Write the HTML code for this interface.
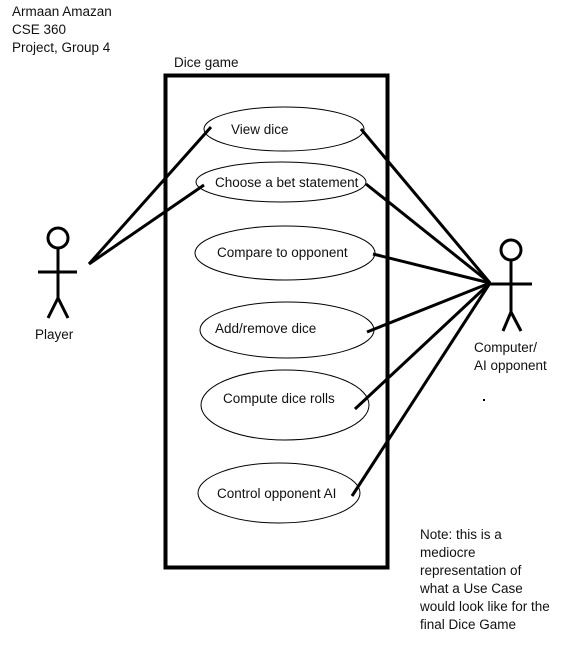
<!DOCTYPE html>
<html><head><style>
body{margin:0;width:580px;height:641px;background:#fff;overflow:hidden}
svg text{font-family:"Liberation Sans",sans-serif;font-size:13.5px;fill:#111}
</style></head><body>
<svg width="580" height="641" viewBox="0 0 580 641">
<text x="12" y="16">Armaan Amazan</text>
<text x="12" y="34">CSE 360</text>
<text x="12" y="52">Project, Group 4</text>
<text x="174" y="67">Dice game</text>
<rect x="165.5" y="75.5" width="222" height="492" fill="none" stroke="#000" stroke-width="4"/>
<g fill="none" stroke="#000" stroke-width="1">
<ellipse cx="284" cy="129" rx="80" ry="22"/>
<ellipse cx="281" cy="182" rx="85" ry="20"/>
<ellipse cx="285" cy="253" rx="90" ry="27"/>
<ellipse cx="287" cy="330" rx="87" ry="28"/>
<ellipse cx="285" cy="405" rx="84" ry="35"/>
<ellipse cx="279" cy="493" rx="81" ry="30"/>
</g>
<text x="231" y="134">View dice</text>
<text x="215" y="187">Choose a bet statement</text>
<text x="217" y="257">Compare to opponent</text>
<text x="215" y="333">Add/remove dice</text>
<text x="223" y="403">Compute dice rolls</text>
<text x="217" y="498">Control opponent AI</text>
<g stroke="#000" stroke-width="3" fill="none">
<circle cx="58" cy="238" r="10"/>
<line x1="58" y1="248" x2="58" y2="300"/>
<line x1="38" y1="272" x2="77" y2="272"/>
<line x1="58" y1="298" x2="48" y2="318"/>
<line x1="58" y1="298" x2="68" y2="318"/>
<circle cx="511" cy="250" r="10"/>
<line x1="511" y1="260" x2="511" y2="314"/>
<line x1="490" y1="284" x2="532" y2="284"/>
<line x1="511" y1="312" x2="503" y2="331"/>
<line x1="511" y1="312" x2="521" y2="331"/>
<line x1="89" y1="264" x2="211" y2="127"/>
<line x1="89" y1="264" x2="204" y2="185"/>
<line x1="490" y1="283" x2="361" y2="129"/>
<line x1="490" y1="283" x2="366" y2="184"/>
<line x1="490" y1="283" x2="373" y2="254"/>
<line x1="490" y1="283" x2="367" y2="332"/>
<line x1="490" y1="283" x2="355" y2="409"/>
<line x1="490" y1="283" x2="352" y2="496"/>
</g>
<text x="35" y="339">Player</text>
<text x="474" y="352">Computer/</text>
<text x="474" y="370">AI opponent</text>
<rect x="483" y="399" width="2" height="2" fill="#000"/>
<text x="420" y="539">Note: this is a</text>
<text x="420" y="557">mediocre</text>
<text x="420" y="575">representation of</text>
<text x="420" y="593">what a Use Case</text>
<text x="420" y="611">would look like for the</text>
<text x="420" y="629">final Dice Game</text>
</svg>
</body></html>
